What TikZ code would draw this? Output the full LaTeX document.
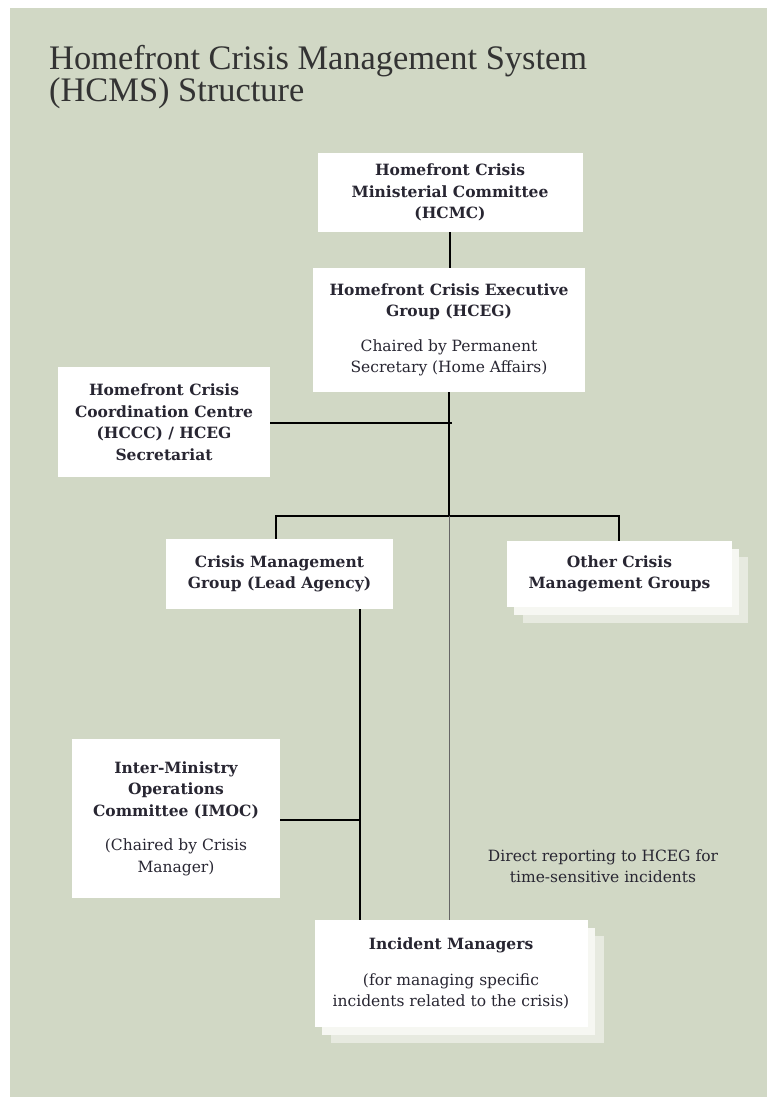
\documentclass[tikz,border=0pt]{standalone}
\usepackage{fontspec}
\setmainfont{DejaVu Serif}
\newfontfamily\titlefont{Liberation Serif}
\usetikzlibrary{shadows}
\definecolor{panel}{RGB}{209,216,197}
\definecolor{inkdark}{RGB}{40,38,50}
\definecolor{layerB}{RGB}{246,247,242}
\definecolor{layerC}{RGB}{231,234,224}
\newcommand{\regtext}[1]{{\mdseries #1}}
\tikzset{
  unitbox/.style={rectangle,fill=white,align=center,inner sep=0pt,text=inkdark,
    font=\fontsize{15.5}{21.5}\selectfont\bfseries},
  stackbox/.style={unitbox,
    copy shadow={shadow xshift=16pt,shadow yshift=-16pt,fill=layerC,draw=none},
    copy shadow={shadow xshift=7pt,shadow yshift=-8pt,fill=layerB,draw=none}},
  link/.style={draw=black,line width=1.5pt},
  thinlink/.style={draw=black!60,line width=1pt},
  every picture/.style={line join=miter}
}

\begin{document}
\begin{tikzpicture}[x=1pt,y=-1pt]
    \useasboundingbox (0,0) rectangle (767,1097);
    \fill[panel] (10,8) rectangle (767,1097);
    \node[anchor=north west,inner sep=0pt,align=left,text=black!80,
          font=\titlefont\fontsize{34.4}{32}\selectfont] (title) at (49,45)
          {Homefront Crisis Management System\\(HCMS) Structure};

    \node[unitbox,minimum width=265pt,minimum height=79pt] (hcmc) at (450,192.5)
          {Homefront Crisis\\Ministerial Committee\\(HCMC)};
    \node[unitbox,minimum width=272pt,minimum height=124pt] (hceg) at (449,330)
          {Homefront Crisis Executive\\Group (HCEG)\\[13pt]\regtext{Chaired by Permanent}\\\regtext{Secretary (Home Affairs)}};
    \node[unitbox,minimum width=212pt,minimum height=110pt] (hccc) at (164,422)
          {Homefront Crisis\\Coordination Centre\\(HCCC) / HCEG\\Secretariat};
    \node[unitbox,minimum width=227pt,minimum height=70pt] (cmg) at (279.5,574)
          {Crisis Management\\Group (Lead Agency)};
    \node[stackbox,minimum width=225pt,minimum height=66pt] (ocmg) at (619.5,574)
          {Other Crisis\\Management Groups};
    \node[unitbox,minimum width=208pt,minimum height=159pt] (imoc) at (176,818.5)
          {Inter-Ministry\\Operations\\Committee (IMOC)\\[13pt]\regtext{(Chaired by Crisis}\\\regtext{Manager)}};
    \node[stackbox,minimum width=273pt,minimum height=107pt] (incm) at (451,973.5)
          {Incident Managers\\[14pt]\regtext{(for managing specific}\\\regtext{incidents related to the crisis)}};
    \node[align=center,inner sep=0pt,text=inkdark,font=\fontsize{15.5}{21.5}\selectfont] (direct) at (603,866)
          {Direct reporting to HCEG for\\time-sensitive incidents};

    \coordinate (hub) at (449,516);
    \coordinate (secj) at (452,423);
    \coordinate (barL) at (276,516);
    \coordinate (barR) at (619,516);
    \coordinate (leadx) at (360,820);

    \draw[link] (hcmc.south) -- (hcmc.south |- hceg.north);
    \draw[link] (hceg.south) -- (hub);
    \draw[link] (hccc.east |- secj) -- (secj);
    \draw[link] (barL |- cmg.north) -- (barL) -- (barR) -- (barR |- ocmg.north);
    \draw[link] (cmg.south -| leadx) -- (incm.north -| leadx);
    \draw[link] (imoc.east |- leadx) -- (leadx);
    \draw[thinlink] (hub) -- (incm.north -| hub);
\end{tikzpicture}
\end{document}
